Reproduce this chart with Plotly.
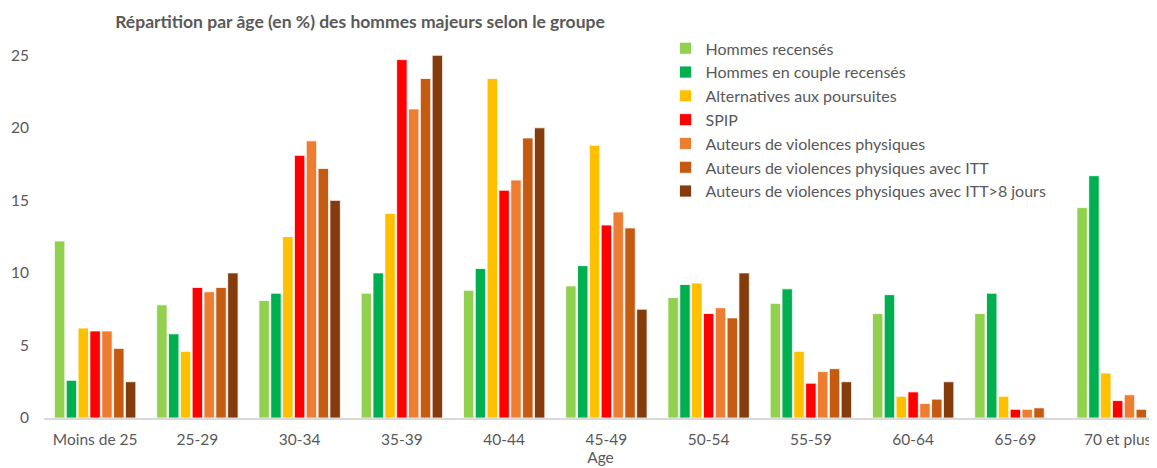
import plotly.graph_objects as go

categories = ["Moins de 25", "25-29", "30-34", "35-39", "40-44", "45-49",
              "50-54", "55-59", "60-64", "65-69", "70 et plus"]

hommes_recenses = [12.2, 7.8, 8.1, 8.6, 8.8, 9.1, 8.3, 7.9, 7.2, 7.2, 14.5]
hommes_couple = [2.6, 5.8, 8.6, 10.0, 10.3, 10.5, 9.2, 8.9, 8.5, 8.6, 16.7]
alternatives = [6.2, 4.6, 12.5, 14.1, 23.4, 18.8, 9.3, 4.6, 1.5, 1.5, 3.1]
spip = [6.0, 9.0, 18.1, 24.7, 15.7, 13.3, 7.2, 2.4, 1.8, 0.6, 1.2]
auteurs = [6.0, 8.7, 19.1, 21.3, 16.4, 14.2, 7.6, 3.2, 1.0, 0.6, 1.6]
auteurs_itt = [4.8, 9.0, 17.2, 23.4, 19.3, 13.1, 6.9, 3.4, 1.3, 0.7, 0.6]
auteurs_itt8 = [2.5, 10.0, 15.0, 25.0, 20.0, 7.5, 10.0, 2.5, 2.5, 0, 0]

series_names = ["Hommes recensés", "Hommes en couple recensés",
                "Alternatives aux poursuites", "SPIP",
                "Auteurs de violences physiques",
                "Auteurs de violences physiques avec ITT",
                "Auteurs de violences physiques avec ITT>8 jours"]
series_values = [hommes_recenses, hommes_couple, alternatives, spip,
                 auteurs, auteurs_itt, auteurs_itt8]
series_colors = ["#92D050", "#00B050", "#FFC000", "#FF0000",
                 "#ED7D31", "#C55A11", "#843C0C"]

y_ticks = [0, 5, 10, 15, 20, 25]

FONT = "Lato, 'Open Sans', sans-serif"
GREY = "#595959"

W, H = 1149, 460  # page body keeps an 8px margin

fig = go.Figure()
for name, vals, col in zip(series_names, series_values, series_colors):
    fig.add_trace(go.Bar(
        name=name, x=categories, y=vals,
        marker=dict(color=col, line=dict(color="white", width=0.8)),
    ))

fig.update_layout(
    width=W, height=H,
    barmode="group", bargap=0.19, bargroupgap=0.12,
    paper_bgcolor="white", plot_bgcolor="white",
    margin=dict(l=36, r=0, t=40, b=50, pad=0),
    font=dict(family=FONT, color=GREY, size=15),
    title=dict(
        text="<b>Répartition par âge (en %) des hommes majeurs selon le groupe</b>",
        x=(360 - 8) / W, xref="container", xanchor="center",
        y=1 - (22 - 8) / H, yref="container", yanchor="middle",
        font=dict(family=FONT, size=17.5, color=GREY),
    ),
    legend=dict(
        x=0.5584, xanchor="left", y=1.045, yanchor="top",
        bgcolor="rgba(0,0,0,0)", font=dict(size=16, color=GREY),
        traceorder="normal",
    ),
    showlegend=True,
)

fig.update_xaxes(
    type="category", range=[-0.5, 10.385],
    showline=True, linecolor="#D9D9D9", linewidth=1.5,
    showgrid=False, ticks="", ticklabelstandoff=7,
    tickfont=dict(size=15.5, color=GREY),
    title=dict(text="Age", font=dict(size=15.5, color=GREY), standoff=1),
)
fig.update_yaxes(
    range=[0, 25.5], tickvals=y_ticks, showgrid=False, zeroline=False,
    showline=False, ticks="", ticklabelstandoff=14,
    tickfont=dict(size=15.5, color=GREY),
)

fig.write_html("out.html")
